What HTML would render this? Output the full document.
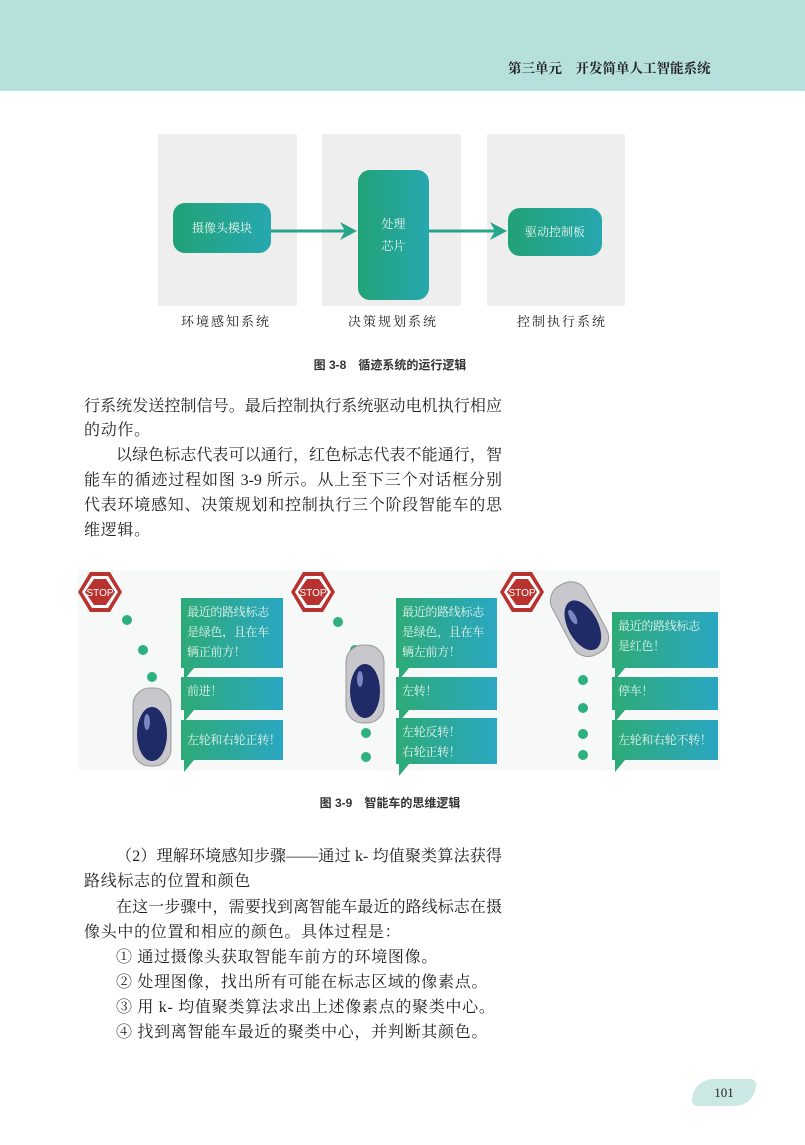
<!DOCTYPE html>
<html><head><meta charset="utf-8"><style>
*{margin:0;padding:0;box-sizing:border-box}
body{width:805px;height:1145px;position:relative;background:#fff;overflow:hidden;font-family:"Liberation Serif","Noto Serif CJK SC",serif;color:#222}
.hdr{position:absolute;left:0;top:0;width:805px;height:91px;background:#b6e0dc}
.hdr span{position:absolute;left:508px;top:57px;font-size:13.5px;font-weight:bold;color:#222;letter-spacing:0}
.p{position:absolute;background:#eeeeee;top:134px;height:172px}
.box{position:absolute;border-radius:12px;background:linear-gradient(90deg,#22a276,#27a8b0);color:#e8f5f0;font-size:12px;display:flex;align-items:center;justify-content:center;text-align:center;line-height:22px}
.lbl{position:absolute;top:311px;font-size:13px;letter-spacing:2px}
.cap{position:absolute;left:0;width:780px;text-align:center;font-family:"Liberation Sans","Noto Sans CJK SC",sans-serif;font-size:12px;font-weight:bold;color:#333}
.l{position:absolute;left:84px;width:418px;font-size:16px;text-align:justify;text-align-last:justify;white-space:nowrap;line-height:20px}
.ln{position:absolute;font-size:16px;line-height:20px;white-space:nowrap;letter-spacing:0.7px}
.fig2{position:absolute;left:78px;top:570px;width:642px;height:200px;background:#f7f9f8}
.b{position:absolute;background:linear-gradient(90deg,#2eaa78,#2aa7c2);color:#e6f4ef;font-size:12px;line-height:20px;padding:4px 0 0 6px;white-space:nowrap;letter-spacing:-0.3px}
.b:after{content:"";position:absolute;left:3px;bottom:-12px;border-right:10px solid transparent;border-top:12px solid #2eaa78}
.pg{position:absolute;left:692px;top:1079px;width:64px;height:27px;background:#cce8e4;border-radius:30px 8px 30px 8px;font-size:13px;text-align:center;line-height:27px}
</style></head><body>
<div class="hdr"><span>第三单元　开发简单人工智能系统</span></div>

<div class="p" style="left:158px;width:139px"></div>
<div class="p" style="left:322px;width:139px"></div>
<div class="p" style="left:487px;width:138px"></div>
<div class="box" style="left:173px;top:203px;width:98px;height:50px">摄像头模块</div>
<div class="box" style="left:358px;top:170px;width:71px;height:130px">处理<br>芯片</div>
<div class="box" style="left:508px;top:208px;width:94px;height:48px">驱动控制板</div>
<svg style="position:absolute;left:0;top:0" width="805" height="400">
<line x1="271" y1="231" x2="352" y2="231" stroke="#26a58a" stroke-width="3"/>
<polygon points="357,231 340,222 345,231 340,240" fill="#26a58a"/>
<line x1="429" y1="231" x2="502" y2="231" stroke="#26a58a" stroke-width="3"/>
<polygon points="507,231 490,222 495,231 490,240" fill="#26a58a"/>
</svg>
<div class="lbl" style="left:181px">环境感知系统</div>
<div class="lbl" style="left:348px">决策规划系统</div>
<div class="lbl" style="left:517px">控制执行系统</div>
<div class="cap" style="top:356px">图 3-8　循迹系统的运行逻辑</div>

<div class="l" style="top:397px">行系统发送控制信号。最后控制执行系统驱动电机执行相应</div>
<div class="ln" style="left:84px;top:421px">的动作。</div>
<div class="l" style="top:446px;left:116px;width:386px">以绿色标志代表可以通行，红色标志代表不能通行，智</div>
<div class="l" style="top:471px">能车的循迹过程如图 3-9 所示。从上至下三个对话框分别</div>
<div class="l" style="top:496px">代表环境感知、决策规划和控制执行三个阶段智能车的思</div>
<div class="ln" style="left:84px;top:521px">维逻辑。</div>

<div class="fig2"></div>
<svg style="position:absolute;left:0;top:0" width="805" height="800">
<g id="stop">
<polygon points="90,572 110,572 122,592 110,612 90,612 78,592" fill="#b8322f"/>
<polygon points="92,576 108,576 118,592 108,608 92,608 82,592" fill="#fff"/>
<polygon points="94,579 106,579 115,592 106,605 94,605 85,592" fill="#b8322f"/>
<text x="100" y="596" font-size="10" fill="#fff" text-anchor="middle" font-family="Liberation Sans,sans-serif">STOP</text>
</g>
<use href="#stop" x="213"/>
<use href="#stop" x="422"/>
<g fill="#2bb07e">
<circle cx="127" cy="620" r="5"/><circle cx="143" cy="650" r="5"/><circle cx="152" cy="677" r="5"/><circle cx="155" cy="705" r="5"/>
<circle cx="338" cy="622" r="5"/><circle cx="355" cy="650" r="5"/><circle cx="366" cy="733" r="5"/><circle cx="366" cy="757" r="5"/>
<circle cx="583" cy="708" r="5"/><circle cx="583" cy="734" r="5"/><circle cx="583" cy="755" r="5"/><circle cx="583" cy="680" r="5"/>
</g>
<g id="car">
<rect x="133" y="688" width="38" height="78" rx="17" fill="#c8c8cc" stroke="#999" stroke-width="1"/>
<ellipse cx="152" cy="734" rx="15" ry="27" fill="#1f2a66"/>
<ellipse cx="147" cy="722" rx="3" ry="8" fill="#7b86c0"/>
</g>
<use href="#car" x="213" y="-43"/>
<g transform="rotate(-28 580 620)"><use href="#car" x="428" y="-108"/></g>
</svg>
<div class="b" style="left:181px;top:598px;width:102px;height:70px">最近的路线标志<br>是绿色，且在车<br>辆正前方！</div>
<div class="b" style="left:181px;top:677px;width:102px;height:33px">前进！</div>
<div class="b" style="left:181px;top:720px;width:102px;height:40px;padding-top:10px">左轮和右轮正转！</div>
<div class="b" style="left:396px;top:598px;width:101px;height:70px">最近的路线标志<br>是绿色，且在车<br>辆左前方！</div>
<div class="b" style="left:396px;top:677px;width:101px;height:33px">左转！</div>
<div class="b" style="left:396px;top:718px;width:101px;height:46px">左轮反转！<br>右轮正转！</div>
<div class="b" style="left:612px;top:612px;width:106px;height:56px">最近的路线标志<br>是红色！</div>
<div class="b" style="left:612px;top:677px;width:106px;height:33px">停车！</div>
<div class="b" style="left:612px;top:720px;width:106px;height:40px;padding-top:10px">左轮和右轮不转！</div>
<div class="cap" style="top:794px">图 3-9　智能车的思维逻辑</div>

<div class="l" style="top:847px;left:116px;width:386px">（2）理解环境感知步骤——通过 k- 均值聚类算法获得</div>
<div class="ln" style="left:84px;top:872px">路线标志的位置和颜色</div>
<div class="l" style="top:898px;left:116px;width:386px">在这一步骤中，需要找到离智能车最近的路线标志在摄</div>
<div class="ln" style="left:84px;top:923px">像头中的位置和相应的颜色。具体过程是：</div>
<div class="ln" style="left:116px;top:948px">① 通过摄像头获取智能车前方的环境图像。</div>
<div class="ln" style="left:116px;top:973px">② 处理图像，找出所有可能在标志区域的像素点。</div>
<div class="ln" style="left:116px;top:998px">③ 用 k- 均值聚类算法求出上述像素点的聚类中心。</div>
<div class="ln" style="left:116px;top:1023px">④ 找到离智能车最近的聚类中心，并判断其颜色。</div>

<div class="pg">101</div>
</body></html>
